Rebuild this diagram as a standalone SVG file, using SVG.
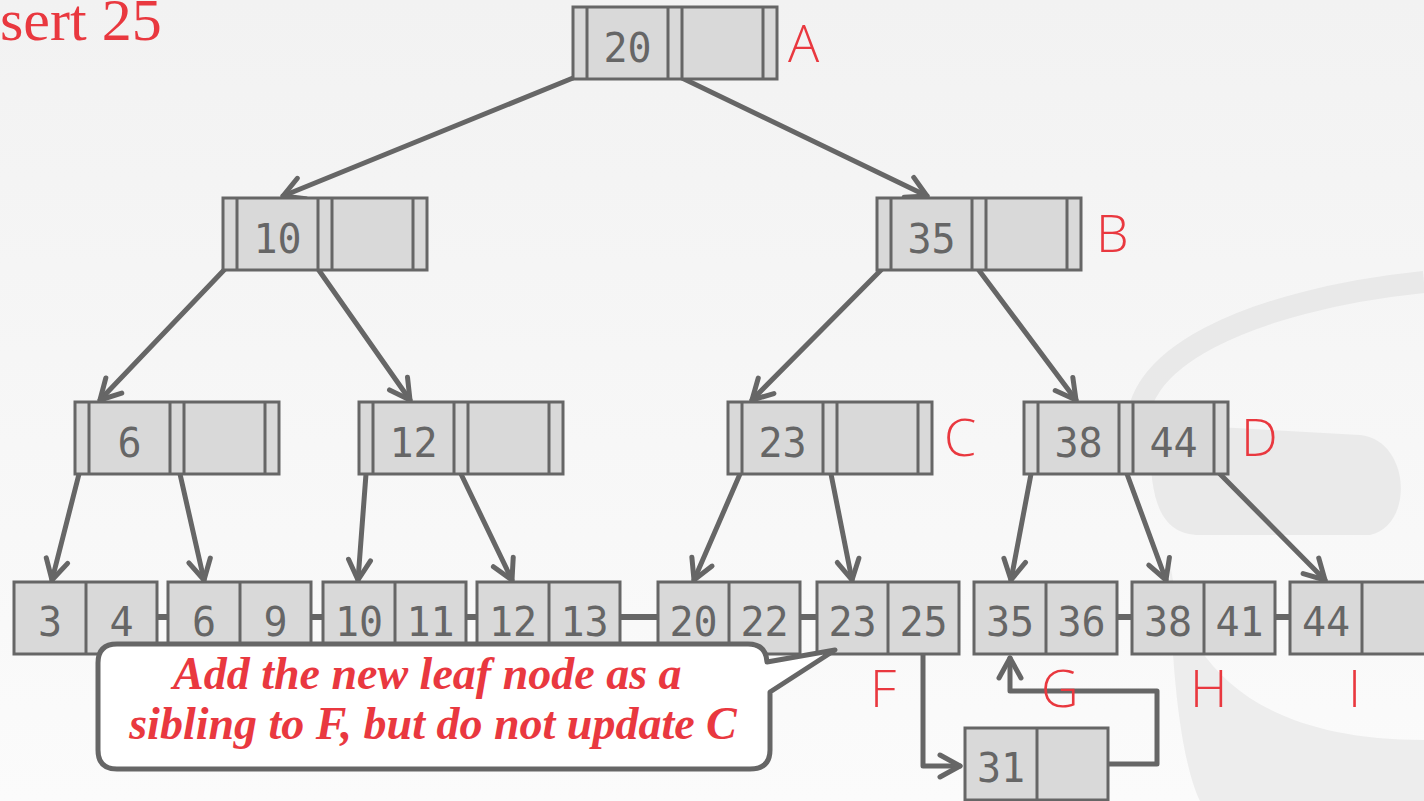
<svg xmlns="http://www.w3.org/2000/svg" width="1424" height="801" viewBox="0 0 1424 801">
<defs>
<linearGradient id="bg" x1="0" y1="0" x2="0" y2="1">
<stop offset="0" stop-color="#f2f2f2"/>
<stop offset="1" stop-color="#fbfbfb"/>
</linearGradient>
<marker id="arr" viewBox="-26 -16 32 32" refX="0" refY="0" markerWidth="32" markerHeight="32" markerUnits="userSpaceOnUse" orient="auto">
<path d="M-20,-11 L0,0 L-20,11" fill="none" stroke="#666" stroke-width="5" stroke-linecap="round" stroke-linejoin="round"/>
</marker>
<style>
.box{fill:#d9d9d9;stroke:#666;stroke-width:3}
.div{stroke:#666;stroke-width:3}
.key{font-family:"DejaVu Sans Mono","Liberation Mono",monospace;font-size:40px;fill:#666;text-anchor:middle}
.lbl{font-family:"Open Sans","Noto Sans",sans-serif;font-weight:300;font-size:52px;fill:#e9383f}
.edge{stroke:#666;stroke-width:5;fill:none;stroke-linecap:round}
.link{stroke:#666;stroke-width:6;fill:none}
.wm{fill:none;stroke:#e9e9e9}
</style>
</defs>
<rect x="0" y="0" width="1424" height="801" fill="url(#bg)"/>
<g id="watermark">
<path class="wm" stroke-width="22" d="M1140,440 C1120,360 1250,300 1424,282"/>
<path d="M1150,440 C1150,430 1160,425 1180,425 L1360,435 C1410,440 1415,525 1370,535 L1200,535 C1160,535 1150,500 1150,440 Z" fill="#eaeaea"/>
<path d="M1170,560 C1180,660 1250,740 1424,740 L1424,801 L1200,801 C1180,760 1170,660 1170,560 Z" fill="#ededed"/>
</g>
<text x="0" y="40" font-family="Liberation Serif, serif" font-size="60" fill="#e9383f">sert 25</text>
<g id="connectors">
<line class="edge" x1="573" y1="78" x2="283" y2="196" marker-end="url(#arr)"/>
<line class="edge" x1="682" y1="78" x2="927" y2="196" marker-end="url(#arr)"/>
<line class="edge" x1="225" y1="269" x2="100" y2="400" marker-end="url(#arr)"/>
<line class="edge" x1="318" y1="269" x2="410" y2="400" marker-end="url(#arr)"/>
<line class="edge" x1="882" y1="269" x2="752" y2="400" marker-end="url(#arr)"/>
<line class="edge" x1="978" y1="269" x2="1076" y2="400" marker-end="url(#arr)"/>
<line class="edge" x1="79" y1="474" x2="52" y2="580" marker-end="url(#arr)"/>
<line class="edge" x1="180" y1="474" x2="204" y2="580" marker-end="url(#arr)"/>
<line class="edge" x1="366" y1="474" x2="358" y2="580" marker-end="url(#arr)"/>
<line class="edge" x1="461" y1="474" x2="512" y2="580" marker-end="url(#arr)"/>
<line class="edge" x1="740" y1="474" x2="694" y2="580" marker-end="url(#arr)"/>
<line class="edge" x1="831" y1="474" x2="852" y2="580" marker-end="url(#arr)"/>
<line class="edge" x1="1031" y1="474" x2="1011" y2="580" marker-end="url(#arr)"/>
<line class="edge" x1="1127" y1="474" x2="1166" y2="580" marker-end="url(#arr)"/>
<line class="edge" x1="1220" y1="474" x2="1325" y2="580" marker-end="url(#arr)"/>
<line class="link" x1="157" y1="617" x2="168" y2="617"/>
<line class="link" x1="311" y1="617" x2="323" y2="617"/>
<line class="link" x1="466" y1="617" x2="477" y2="617"/>
<line class="link" x1="620" y1="617" x2="658" y2="617"/>
<line class="link" x1="800" y1="617" x2="817" y2="617"/>
<line class="link" x1="1117" y1="617" x2="1132" y2="617"/>
<line class="link" x1="1275" y1="617" x2="1290" y2="617"/>
<path class="edge" stroke-width="6" d="M923,654 L923,766 L960,766" stroke-linejoin="round" marker-end="url(#arr)"/>
<path class="edge" stroke-width="6" d="M1108,764 L1157,764 L1157,691 L1010,691 L1010,658" stroke-linejoin="round" marker-end="url(#arr)"/>
</g>
<g id="nodeA">
<rect class="box" x="573" y="7" width="204" height="72"/>
<path class="div" d="M587,7V79M668,7V79M682,7V79M763,7V79"/>
<text class="key" x="627.5" y="62">20</text>
<text class="lbl" x="788" y="62">A</text>
</g>
<g id="node10">
<rect class="box" x="223" y="198" width="204" height="72"/>
<path class="div" d="M237,198V270M318,198V270M332,198V270M413,198V270"/>
<text class="key" x="277.5" y="253">10</text>
</g>
<g id="nodeB">
<rect class="box" x="877" y="198" width="204" height="72"/>
<path class="div" d="M891,198V270M972,198V270M986,198V270M1067,198V270"/>
<text class="key" x="931.5" y="253">35</text>
<text class="lbl" x="1096" y="252">B</text>
</g>
<g id="node6">
<rect class="box" x="75" y="402" width="204" height="72"/>
<path class="div" d="M89,402V474M170,402V474M184,402V474M265,402V474"/>
<text class="key" x="129.5" y="457">6</text>
</g>
<g id="node12">
<rect class="box" x="359" y="402" width="204" height="72"/>
<path class="div" d="M373,402V474M454,402V474M468,402V474M549,402V474"/>
<text class="key" x="413.5" y="457">12</text>
</g>
<g id="nodeC">
<rect class="box" x="728" y="402" width="204" height="72"/>
<path class="div" d="M742,402V474M823,402V474M837,402V474M918,402V474"/>
<text class="key" x="782.5" y="457">23</text>
<text class="lbl" x="944" y="456">C</text>
</g>
<g id="nodeD">
<rect class="box" x="1024" y="402" width="204" height="72"/>
<path class="div" d="M1038,402V474M1119,402V474M1133,402V474M1214,402V474"/>
<text class="key" x="1078.5" y="457">38</text>
<text class="key" x="1173.5" y="457">44</text>
<text class="lbl" x="1241" y="456">D</text>
</g>
<g id="leaf1">
<rect class="box" x="14" y="582" width="143" height="72"/>
<path class="div" d="M86,582V654"/>
<text class="key" x="50" y="636">3</text>
<text class="key" x="121.5" y="636">4</text>
</g>
<g id="leaf2">
<rect class="box" x="168" y="582" width="143" height="72"/>
<path class="div" d="M240,582V654"/>
<text class="key" x="204" y="636">6</text>
<text class="key" x="275.5" y="636">9</text>
</g>
<g id="leaf3">
<rect class="box" x="323" y="582" width="143" height="72"/>
<path class="div" d="M395,582V654"/>
<text class="key" x="359" y="636">10</text>
<text class="key" x="430.5" y="636">11</text>
</g>
<g id="leaf4">
<rect class="box" x="477" y="582" width="143" height="72"/>
<path class="div" d="M549,582V654"/>
<text class="key" x="513" y="636">12</text>
<text class="key" x="584.5" y="636">13</text>
</g>
<g id="leaf5">
<rect class="box" x="658" y="582" width="142" height="72"/>
<path class="div" d="M729,582V654"/>
<text class="key" x="693.5" y="636">20</text>
<text class="key" x="764.5" y="636">22</text>
</g>
<g id="leafF">
<rect class="box" x="817" y="582" width="142" height="72"/>
<path class="div" d="M888,582V654"/>
<text class="key" x="852.5" y="636">23</text>
<text class="key" x="923.5" y="636">25</text>
<text class="lbl" x="870" y="707">F</text>
</g>
<g id="leafG">
<rect class="box" x="974" y="582" width="143" height="72"/>
<path class="div" d="M1046,582V654"/>
<text class="key" x="1010" y="636">35</text>
<text class="key" x="1081.5" y="636">36</text>
<text class="lbl" x="1041" y="707">G</text>
</g>
<g id="leafH">
<rect class="box" x="1132" y="582" width="143" height="72"/>
<path class="div" d="M1204,582V654"/>
<text class="key" x="1168" y="636">38</text>
<text class="key" x="1239.5" y="636">41</text>
<text class="lbl" x="1190" y="707">H</text>
</g>
<g id="leafI">
<rect class="box" x="1290" y="582" width="143" height="72"/>
<path class="div" d="M1362,582V654"/>
<text class="key" x="1326" y="636">44</text>
<text class="lbl" x="1348" y="707">I</text>
</g>
<g id="leaf31">
<rect class="box" x="965" y="728" width="143" height="72"/>
<path class="div" d="M1037,728V800"/>
<text class="key" x="1001" y="782">31</text>
</g>
<g id="callout">
<path d="M117,644 L748,644 Q766,644 767,662 L835,650 L770,692 L770,750 Q770,769 750,769 L117,769 Q98,769 98,750 L98,663 Q98,644 117,644 Z" fill="#ffffff" stroke="#666" stroke-width="5" stroke-linejoin="round"/>
<text font-family="Liberation Serif, serif" font-weight="bold" font-style="italic" font-size="46" fill="#e9383f" text-anchor="middle">
<tspan x="433" y="689">Add the new leaf node as a</tspan>
<tspan x="433" y="739">sibling to F, but do not update C</tspan>
</text>
</g>
</svg>
